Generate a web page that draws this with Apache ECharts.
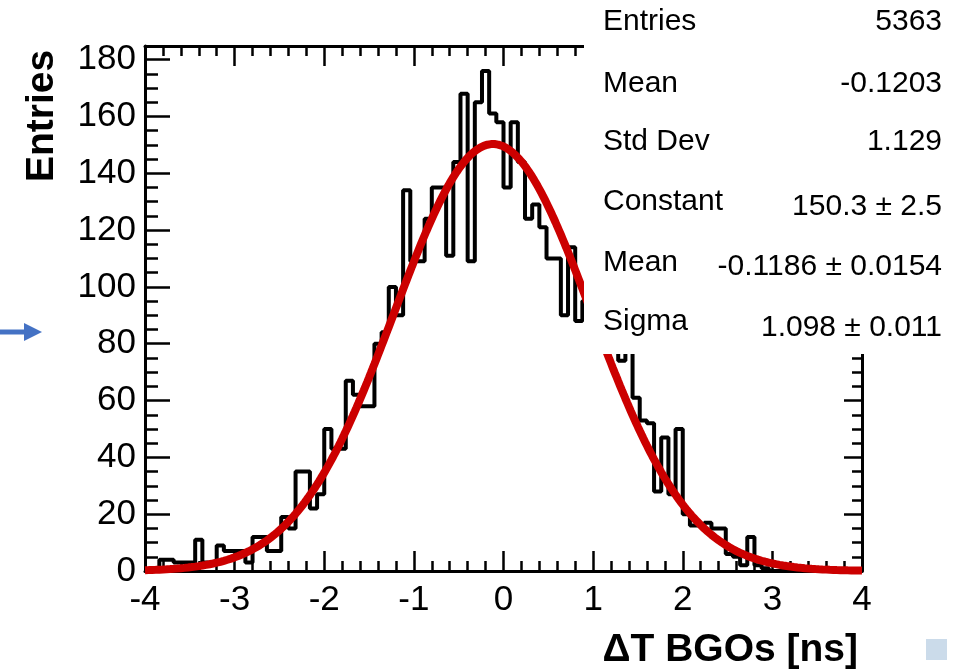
<!DOCTYPE html>
<html>
<head>
<meta charset="utf-8">
<script src="https://cdn.jsdelivr.net/npm/echarts@6/dist/echarts.min.js"></script>
<style>
  html, body { margin: 0; padding: 0; background: #ffffff; }
  #chart { width: 966px; height: 671px; }
</style>
</head>
<body>
<div id="chart"></div>
<script>
// Histogram binning: 100 bins between -4 and 4 ns
const xMin = -4;
const xMax = 4;
const nBins = 100;

// Entries per bin
const counts = [
  0, 1, 4, 4, 3, 3, 3, 11, 3, 3,
  9, 7, 7, 7, 3, 12, 12, 7, 7, 19,
  15, 35, 35, 22, 27, 50, 43, 43, 67, 62,
  58, 58, 80, 84, 100, 90, 134, 109, 109, 124,
  135, 135, 111, 144, 168, 109, 165, 176, 161, 158,
  135, 158, 144, 124, 129, 121, 110, 110, 90, 114,
  88, 95, 95, 90, 88, 90, 74, 86, 61, 53,
  52, 28, 47, 27, 50, 20, 16, 16, 17, 15,
  15, 6, 5, 2, 12, 2, 1, 0, 0, 0,
  0, 0, 0, 0, 0, 0, 0, 0, 0, 0
];

// Gaussian fit result
const fitConstant = 150.3;
const fitMean = -0.1186;
const fitSigma = 1.098;

// Statistics box
const statsLabels = ['Entries', 'Mean', 'Std Dev', 'Constant', 'Mean', 'Sigma'];
const statsValues = ['5363', '-0.1203', '1.129', '150.3 \u00b1 2.5', '-0.1186 \u00b1 0.0154', '1.098 \u00b1 0.011'];

// Axis ticks
const xTickStep = 1;
const xMinorStep = 0.2;
const yMaxValue = 184.8;
const yTickStep = 20;
const yMinorStep = 5;

const xTitle = '\u0394T BGOs [ns]';
const yTitle = 'Entries';

// ---- build the step outline of the histogram ----
const binWidth = (xMax - xMin) / nBins;
const histPoints = [[xMin, 0]];
counts.forEach((c, i) => histPoints.push([xMin + i * binWidth, c]));
histPoints.push([xMax, counts[counts.length - 1]]);
histPoints.push([xMax, 0]);

// ---- fit function evaluated across the axis range ----
const fitPoints = [];
const nFit = 400;
for (let i = 0; i <= nFit; i++) {
  const x = xMin + (xMax - xMin) * i / nFit;
  const z = (x - fitMean) / fitSigma;
  fitPoints.push([x, fitConstant * Math.exp(-0.5 * z * z)]);
}

const FONT = '"Liberation Sans", Arial, Helvetica, sans-serif';
const black = '#000000';

function xAxisDef(pos, step, len, labels, line) {
  return {
    type: 'value', min: xMin, max: xMax, interval: step, position: pos,
    axisLine: { show: line, onZero: false, lineStyle: { color: black, width: 3 } },
    axisTick: { show: true, inside: true, length: len, lineStyle: { color: black, width: 2.5 } },
    axisLabel: {
      show: labels, color: black, fontSize: 35, fontFamily: FONT, margin: 12,
      formatter: v => String(Math.round(v))
    },
    splitLine: { show: false }
  };
}

function yAxisDef(pos, step, len, labels, line) {
  return {
    type: 'value', min: 0, max: yMaxValue, interval: step, position: pos,
    axisLine: { show: line, onZero: false, lineStyle: { color: black, width: 3 } },
    axisTick: { show: true, inside: true, length: len, lineStyle: { color: black, width: 2.5 } },
    axisLabel: {
      show: labels, color: black, fontSize: 35, fontFamily: FONT, margin: 9,
      showMaxLabel: false,
      formatter: v => (v % yTickStep === 0 ? String(v) : '')
    },
    splitLine: { show: false }
  };
}

const chart = echarts.init(document.getElementById('chart'), null, { renderer: 'canvas' });

const statsGraphics = [];
const labelY = [22, 84, 142, 202, 263, 322];
const valueY = [22, 84, 142, 207, 267, 328];
statsLabels.forEach((t, i) => {
  statsGraphics.push({
    type: 'text', z: 101, x: 603, y: labelY[i],
    style: { text: t, font: '30px ' + FONT, fill: black, align: 'left', verticalAlign: 'middle' }
  });
});
statsValues.forEach((t, i) => {
  statsGraphics.push({
    type: 'text', z: 101, x: 942, y: valueY[i],
    style: { text: t, font: '30px ' + FONT, fill: black, align: 'right', verticalAlign: 'middle' }
  });
});

chart.setOption({
  animation: false,
  backgroundColor: '#ffffff',
  grid: { left: 145, right: 104, top: 46, bottom: 100, containLabel: false },
  xAxis: [
    xAxisDef('bottom', xTickStep, 20, true, true),
    xAxisDef('bottom', xMinorStep, 10, false, false),
    xAxisDef('top', xTickStep, 20, false, true),
    xAxisDef('top', xMinorStep, 10, false, false)
  ],
  yAxis: [
    yAxisDef('left', yTickStep, 25, true, true),
    yAxisDef('left', yMinorStep, 13, false, false),
    yAxisDef('right', yTickStep, 18, false, true),
    yAxisDef('right', yMinorStep, 10, false, false)
  ],
  series: [
    {
      name: 'histogram', type: 'line', xAxisIndex: 0, yAxisIndex: 0,
      data: histPoints, step: 'end', symbol: 'none', z: 3,
      lineStyle: { color: black, width: 4 }
    },
    {
      name: 'fit', type: 'line', xAxisIndex: 0, yAxisIndex: 0,
      data: fitPoints, symbol: 'none', smooth: false, z: 4,
      lineStyle: { color: '#cc0000', width: 8 }
    }
  ],
  graphic: [
    // statistics box background
    { type: 'rect', z: 100, shape: { x: 584, y: 0, width: 382, height: 354 }, style: { fill: '#ffffff' } },
    ...statsGraphics,
    // axis titles
    {
      type: 'text', z: 101, x: 42, y: 116, rotation: Math.PI / 2,
      style: { text: yTitle, font: 'bold 39px ' + FONT, fill: black, align: 'center', verticalAlign: 'middle' }
    },
    {
      type: 'text', z: 101, x: 858, y: 650,
      style: { text: xTitle, font: 'bold 39px ' + FONT, fill: black, align: 'right', verticalAlign: 'middle' }
    },
    // pointer arrow on the left margin
    { type: 'line', z: 101, shape: { x1: 0, y1: 332, x2: 26, y2: 332 }, style: { stroke: '#4472c4', lineWidth: 5 } },
    { type: 'polygon', z: 101, shape: { points: [[24, 323], [42, 332], [24, 341]] }, style: { fill: '#4472c4' } },
    // small square marker bottom right
    { type: 'rect', z: 101, shape: { x: 926, y: 639, width: 21, height: 21 }, style: { fill: '#cbdbea' } }
  ]
});
</script>
</body>
</html>
